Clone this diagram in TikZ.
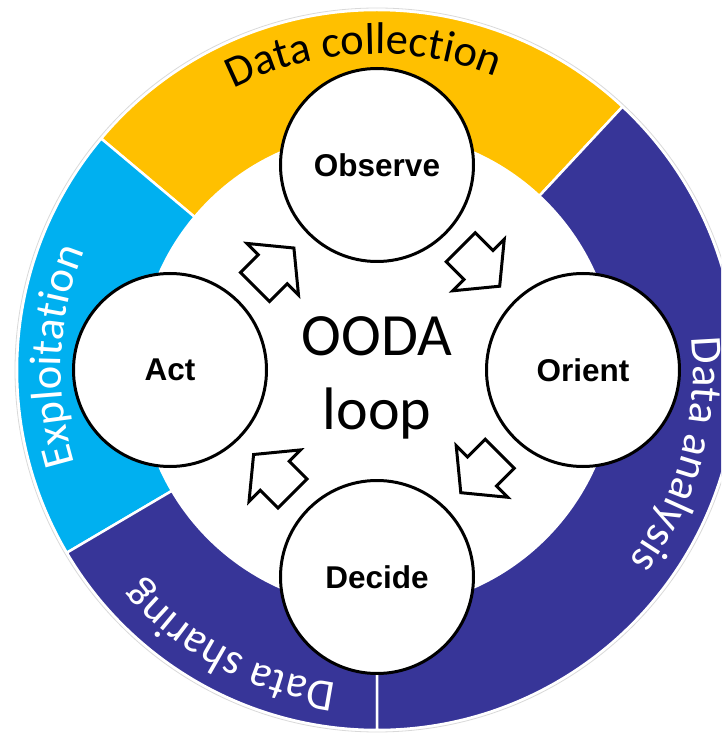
\documentclass[tikz,border=0pt]{standalone}
\usepackage{fontspec}
\usetikzlibrary{decorations.text}
\newfontfamily\carlitofont{Carlito}
\newfontfamily\arialfont{Liberation Sans}
\definecolor{ringyellow}{RGB}{255,192,0}
\definecolor{ringcyan}{RGB}{0,176,240}
\definecolor{ringnavy}{RGB}{55,53,152}
\newcommand\ringtextfont{\fontsize{44.5}{50}\selectfont\carlitofont}
\begin{document}
\begin{tikzpicture}[x=1pt,y=1pt,
  segment/.style={draw=white, line width=2.5pt},
  stage/.style={circle, draw=black, fill=white, line width=3pt,
    minimum size=193pt, inner sep=0pt,
    font=\fontsize{31.5}{36}\selectfont\arialfont\bfseries},
  arrowbox/.style={draw=black, fill=white, line width=3pt, line join=miter},
  blockarrow/.pic={
    \path[arrowbox] (-27.5,20.5) -- (-2.5,20.5) -- (-2.5,36.5) -- (27.5,0)
      -- (-2.5,-36.5) -- (-2.5,-20.5) -- (-27.5,-20.5) -- cycle;
  }
]
\useasboundingbox (-377,-363) rectangle (344,370);
\clip (-377,-363) rectangle (344,370);

% ring segments
\path[segment, fill=ringyellow] (47:360) arc[start angle=47, end angle=140, radius=360]
  -- (140:238) arc[start angle=140, end angle=47, radius=238] -- cycle;
\path[segment, fill=ringcyan] (140:360) arc[start angle=140, end angle=210.5, radius=360]
  -- (210.5:238) arc[start angle=210.5, end angle=140, radius=238] -- cycle;
\path[segment, fill=ringnavy] (210.5:360) arc[start angle=210.5, end angle=270, radius=360]
  -- (270:238) arc[start angle=270, end angle=210.5, radius=238] -- cycle;
\path[segment, fill=ringnavy] (270:360) arc[start angle=270, end angle=407, radius=360]
  -- (407:238) arc[start angle=407, end angle=270, radius=238] -- cycle;
\draw[gray!30, line width=0.8pt] (0,0) circle[radius=362];

% ring labels
\path[decorate, decoration={text along path, text align=center, text color=black,
  text={|\ringtextfont|Data collection}}]
  (152.5:316) arc[start angle=152.5, end angle=32.5, radius=316];
\path[decorate, decoration={text along path, text align=center, text color=white,
  text={|\ringtextfont|Exploitation}}]
  (237.5:316) arc[start angle=237.5, end angle=117.5, radius=316];
\path[decorate, decoration={text along path, text align=center, text color=white,
  text={|\ringtextfont|Data sharing}}]
  (302:316) arc[start angle=302, end angle=182, radius=316];
\path[decorate, decoration={text along path, text align=center, text color=white,
  text={|\ringtextfont|Data analysis}}]
  (44.4:316) arc[start angle=44.4, end angle=-75.6, radius=316];

% stages
\node[stage] (observe) at (90:205) {Observe};
\node[stage] (orient) at (0:206) {Orient};
\node[stage] (decide) at (270:207) {Decide};
\node[stage] (act) at (180:207) {Act};

% centre label
\node[font=\fontsize{60}{74}\selectfont\carlitofont, align=center, inner sep=0pt]
  (ooda) at (0,-7.5) {OODA\\loop};

% block arrows
\pic[rotate=-45] (arrowOO) at (45:146) {blockarrow};
\pic[rotate=-135] (arrowOD) at (-45:146) {blockarrow};
\pic[rotate=135] (arrowDA) at (-135:147) {blockarrow};
\pic[rotate=45] (arrowAO) at (135:145) {blockarrow};
\end{tikzpicture}
\end{document}
